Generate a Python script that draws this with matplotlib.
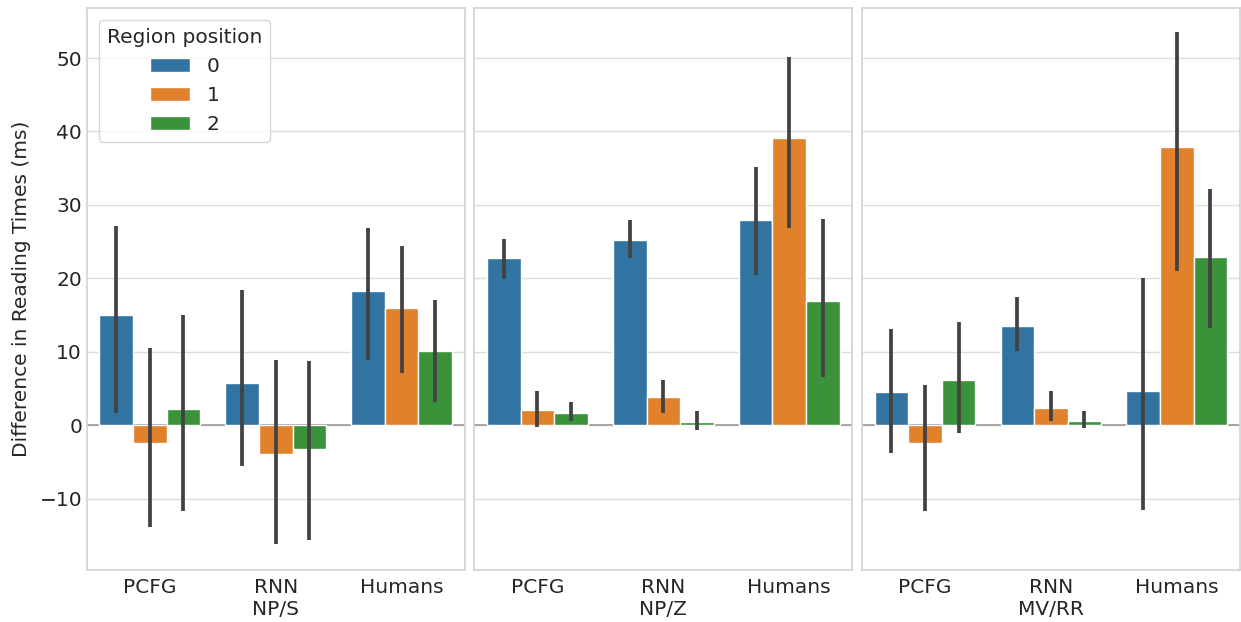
import numpy as np
import matplotlib
matplotlib.use("Agg")
import matplotlib.pyplot as plt
import seaborn as sns

# sentence types, one panel each
constructions = ["NP/S", "NP/Z", "MV/RR"]
sources = ["PCFG", "RNN", "Humans"]
positions = ["0", "1", "2"]

# mean difference per [source][region position]
means_nps = [[15.0, -2.5, 2.2], [5.8, -4.0, -3.2], [18.3, 15.9, 10.1]]
means_npz = [[22.7, 2.1, 1.7], [25.2, 3.8, 0.4], [27.9, 39.1, 16.9]]
means_mvrr = [[4.5, -2.5, 6.2], [13.5, 2.3, 0.6], [4.6, 37.9, 22.9]]

# confidence interval bounds
low_nps = [[1.6, -13.9, -11.7], [-5.6, -16.2, -15.7], [8.9, 7.1, 3.2]]
high_nps = [[27.1, 10.5, 15.0], [18.4, 8.9, 8.8], [26.9, 24.4, 17.0]]
low_npz = [[19.9, -0.2, 0.6], [22.8, 1.6, -0.7], [20.4, 26.8, 6.5]]
high_npz = [[25.4, 4.7, 3.1], [27.9, 6.2, 1.9], [35.2, 50.2, 28.1]]
low_mvrr = [[-3.8, -11.7, -1.1], [10.1, 0.5, -0.4], [-11.5, 21.0, 13.2]]
high_mvrr = [[13.1, 5.5, 14.1], [17.4, 4.6, 1.9], [20.1, 53.6, 32.1]]

panels = [
    (means_nps, low_nps, high_nps),
    (means_npz, low_npz, high_npz),
    (means_mvrr, low_mvrr, high_mvrr),
]

sns.set_theme(style="whitegrid", rc={"grid.color": "#dddddd"})
plt.rcParams['font.family'] = ['DejaVu Sans']
colors = sns.color_palette("tab10", 3, desat=0.75)

fig, axes = plt.subplots(1, 3, figsize=(12.41, 6.22), dpi=100, sharey=True)
fig.subplots_adjust(left=0.070, right=0.999, top=0.987, bottom=0.084, wspace=0.026)

width = 0.8 / len(positions)
x = np.arange(len(sources))

for k, ax in enumerate(axes):
    means, lows, highs = panels[k]
    means = np.array(means)
    lows = np.array(lows)
    highs = np.array(highs)
    ax.axhline(0, color="#999999", lw=1.2, zorder=1)
    for j, pos in enumerate(positions):
        xs = x - 0.4 + width * (j + 0.5)
        ax.bar(xs, means[:, j], width, color=colors[j], edgecolor="white",
               linewidth=1, label=pos, zorder=2)
        ax.vlines(xs, lows[:, j], highs[:, j], color=".26", lw=2.7, zorder=3)
    ax.set_xticks(x)
    labels = list(sources)
    labels[1] = sources[1] + "\n" + constructions[k]
    ax.set_xticklabels(labels, fontsize=14.5)
    ax.set_xlim(-0.5, 2.5)
    ax.grid(axis="x", visible=False)
    ax.tick_params(axis="y", labelsize=14.5, length=0)
    ax.tick_params(axis="x", length=0, pad=6)
    for s in ax.spines.values():
        s.set_color("#d4d4d4")

axes[0].set_ylim(-19.7, 56.8)
axes[0].set_yticks([-10, 0, 10, 20, 30, 40, 50])
axes[0].set_ylabel("Difference in Reading Times (ms)", fontsize=14.5, labelpad=6)
leg = axes[0].legend(title="Region position", loc="upper left", fontsize=14.5,
                     title_fontsize=14.5, frameon=True, borderaxespad=0.6)

fig.savefig("out.png", dpi=100)
